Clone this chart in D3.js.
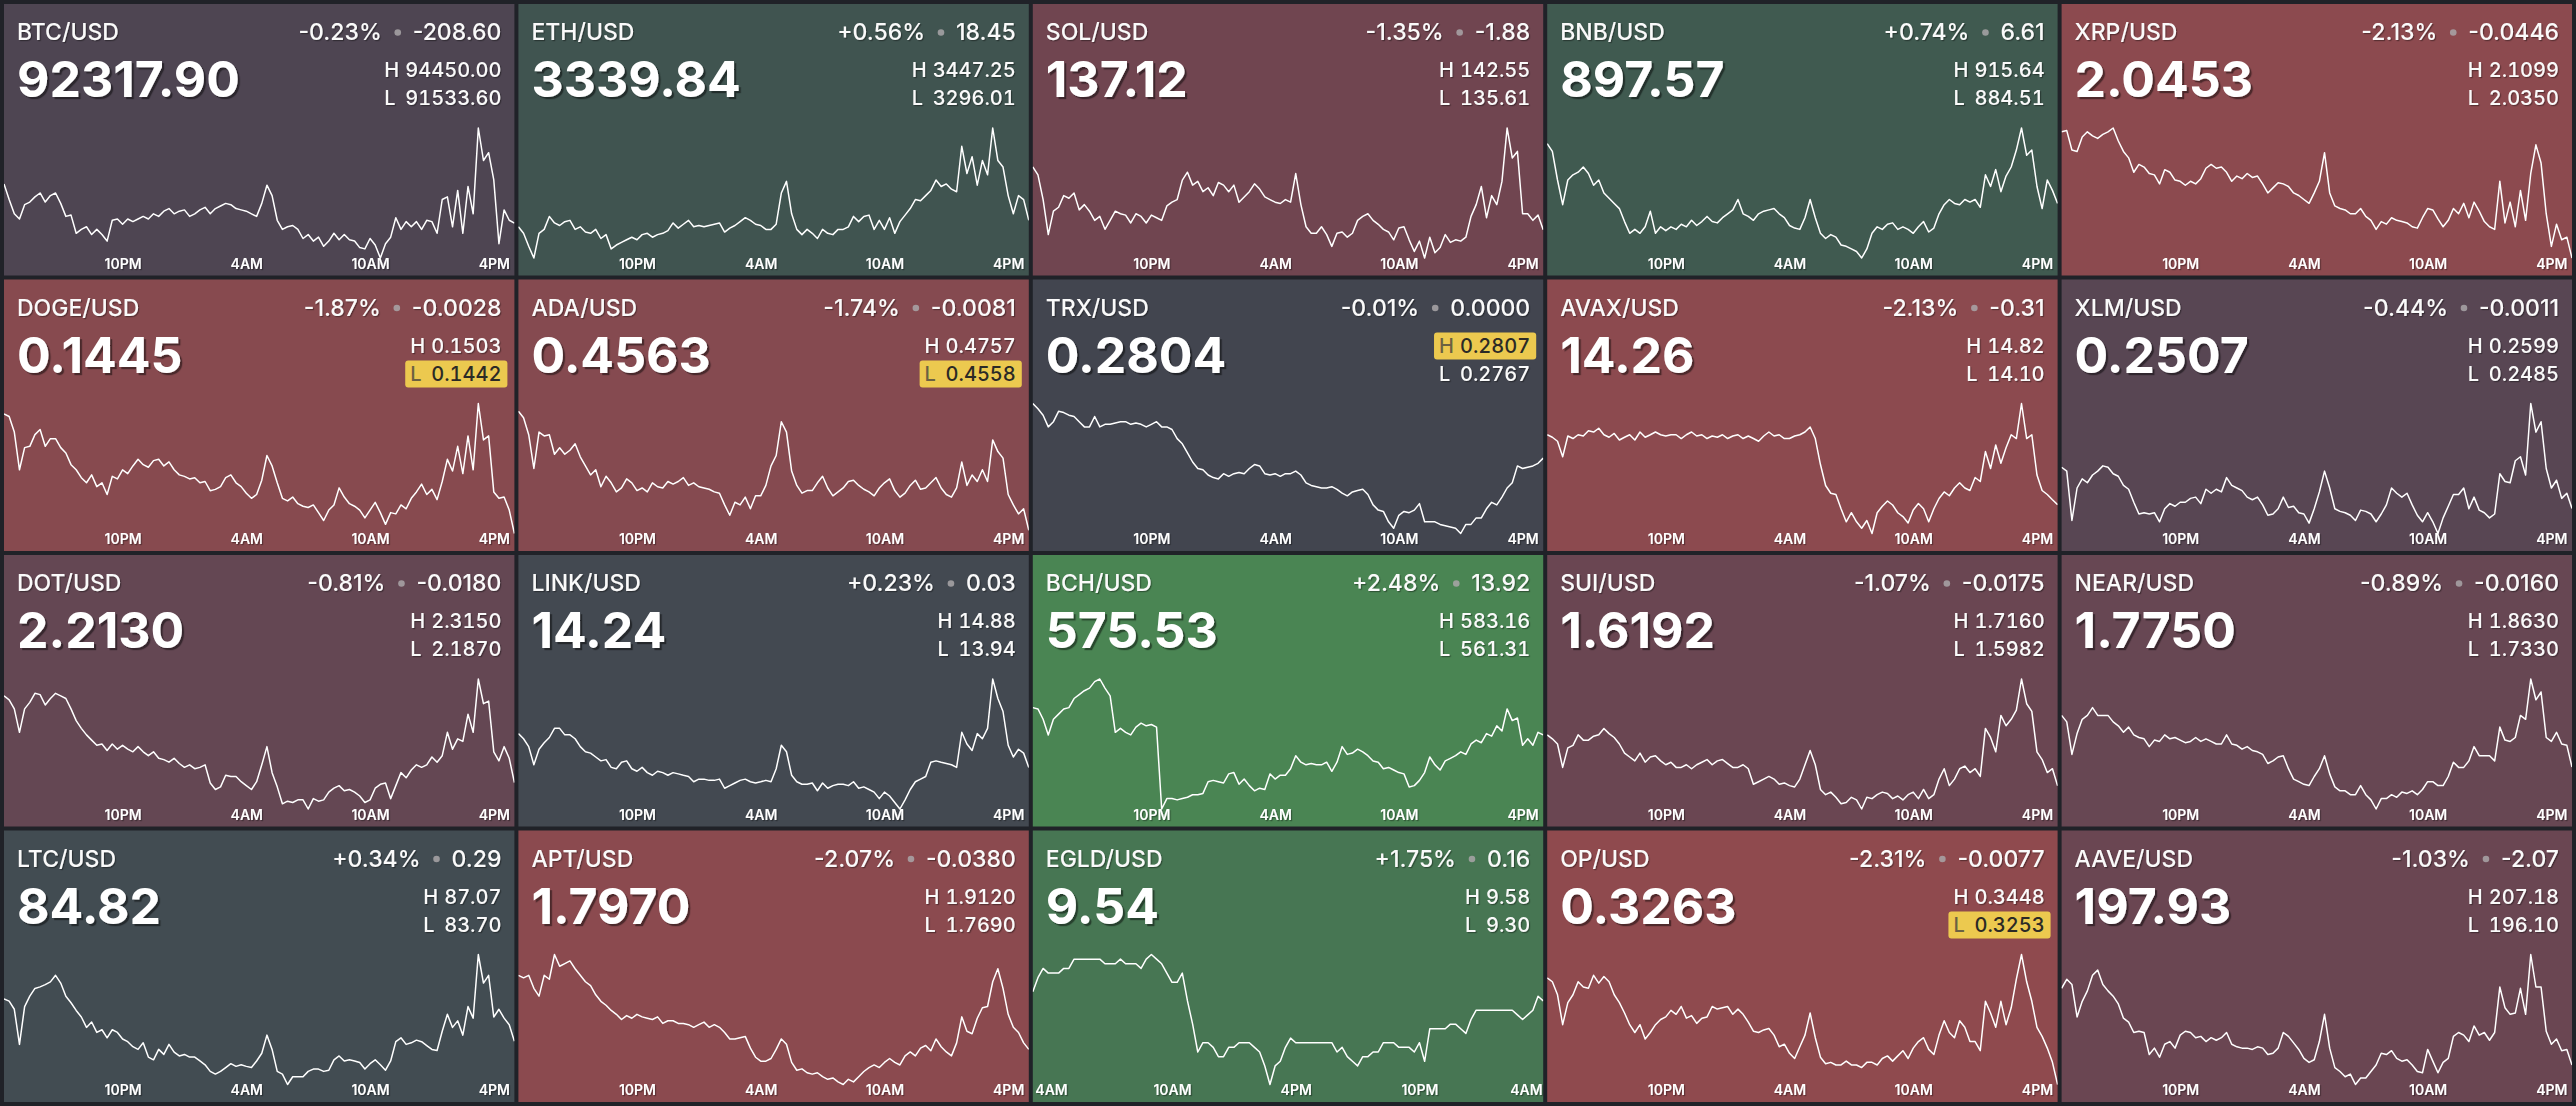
<!DOCTYPE html>
<html>
<head>
<meta charset="utf-8">
<script src="https://cdn.jsdelivr.net/npm/d3@7"></script>
<style>
  html, body { margin: 0; padding: 0; background: #202228; overflow: hidden; }
  svg { display: block; }
  .hl-value { font-variant-numeric: tabular-nums; }
</style>
</head>
<body>
<script>
// ---- Ticker data ----------------------------------------------------------
const symbols = ["BTC/USD", "ETH/USD", "SOL/USD", "BNB/USD", "XRP/USD",
                 "DOGE/USD", "ADA/USD", "TRX/USD", "AVAX/USD", "XLM/USD",
                 "DOT/USD", "LINK/USD", "BCH/USD", "SUI/USD", "NEAR/USD",
                 "LTC/USD", "APT/USD", "EGLD/USD", "OP/USD", "AAVE/USD"];
const lastPrices = [92317.90, 3339.84, 137.12, 897.57, 2.0453,
                    0.1445, 0.4563, 0.2804, 14.26, 0.2507,
                    2.2130, 14.24, 575.53, 1.6192, 1.7750,
                    84.82, 1.7970, 9.54, 0.3263, 197.93];
const changePct = [-0.23, 0.56, -1.35, 0.74, -2.13,
                   -1.87, -1.74, -0.01, -2.13, -0.44,
                   -0.81, 0.23, 2.48, -1.07, -0.89,
                   0.34, -2.07, 1.75, -2.31, -1.03];
const changeAbs = [-208.60, 18.45, -1.88, 6.61, -0.0446,
                   -0.0028, -0.0081, 0.0000, -0.31, -0.0011,
                   -0.0180, 0.03, 13.92, -0.0175, -0.0160,
                   0.29, -0.0380, 0.16, -0.0077, -2.07];
const dayHigh = [94450.00, 3447.25, 142.55, 915.64, 2.1099,
                 0.1503, 0.4757, 0.2807, 14.82, 0.2599,
                 2.3150, 14.88, 583.16, 1.7160, 1.8630,
                 87.07, 1.9120, 9.58, 0.3448, 207.18];
const dayLow = [91533.60, 3296.01, 135.61, 884.51, 2.0350,
                0.1442, 0.4558, 0.2767, 14.10, 0.2485,
                2.1870, 13.94, 561.31, 1.5982, 1.7330,
                83.70, 1.7690, 9.30, 0.3253, 196.10];
const decimals = [2, 2, 2, 2, 4, 4, 4, 4, 2, 4, 4, 2, 2, 4, 4, 2, 4, 2, 4, 2];

// first sample time of each 15-minute series (UTC)
const seriesStart = ["2025-01-14 16:15", "2025-01-14 16:15", "2025-01-14 16:15", "2025-01-14 16:15", "2025-01-14 16:15",
                     "2025-01-14 16:15", "2025-01-14 16:15", "2025-01-14 16:15", "2025-01-14 16:15", "2025-01-14 16:15",
                     "2025-01-14 16:15", "2025-01-14 16:15", "2025-01-14 16:15", "2025-01-14 16:15", "2025-01-14 16:15",
                     "2025-01-14 16:15", "2025-01-14 16:15", "2025-01-14 03:15", "2025-01-14 16:15", "2025-01-14 16:15"];
const stepMinutes = 15;
const tickHours = [4, 10, 16, 22];

// ---- 15-minute closes -----------------------------------------------------
const btcSeries = [93196, 92846, 92525, 92409, 92730, 92788, 92905, 92992, 92788, 92934,
  92992, 92759, 92467, 92496, 92088, 92176, 92234, 92059, 92176, 92059,
  91913, 92380, 92409, 92292, 92409, 92350, 92409, 92467, 92409, 92525,
  92467, 92584, 92642, 92525, 92584, 92613, 92467, 92525, 92613, 92671,
  92525, 92642, 92700, 92759, 92730, 92642, 92613, 92584, 92525, 92467,
  92759, 93167, 92934, 92380, 92176, 92234, 92263, 92176, 91971, 92059,
  91913, 92001, 91796, 91913, 92088, 91942, 92059, 91942, 91913, 91767,
  91738, 91971, 91826, 91533.6, 91855, 92001, 92438, 92176, 92350, 92234,
  92350, 92176, 92380, 92350, 92088, 92846, 92905, 92234, 93050, 92088,
  93138, 92525, 94450, 93721, 93896, 93284, 91855, 92613, 92380, 92317.9];
const ethSeries = [3332.3, 3324.7, 3309.6, 3296.01, 3324.7, 3329.3, 3344.4, 3336.8, 3333.8, 3338.3,
  3339.8, 3329.3, 3332.3, 3326.2, 3324.7, 3329.3, 3318.7, 3323.2, 3306.6, 3311.1,
  3314.1, 3317.2, 3320.2, 3317.2, 3323.2, 3324.7, 3320.2, 3323.2, 3324.7, 3327.8,
  3336.8, 3330.8, 3335.3, 3339.8, 3332.3, 3333.8, 3332.3, 3333.8, 3335.3, 3336.8,
  3326.2, 3330.8, 3333.8, 3338.3, 3342.9, 3339.8, 3335.3, 3333.8, 3329.3, 3329.3,
  3335.3, 3371.6, 3385.2, 3347.4, 3329.3, 3323.2, 3329.3, 3324.7, 3318.7, 3329.3,
  3324.7, 3323.2, 3329.3, 3329.3, 3332.3, 3344.4, 3338.3, 3344.4, 3345.9, 3329.3,
  3339.8, 3329.3, 3342.9, 3324.7, 3338.3, 3345.9, 3353.5, 3364.0, 3362.5, 3368.6,
  3374.6, 3386.7, 3379.2, 3382.2, 3376.1, 3373.1, 3426.0, 3394.3, 3413.9, 3380.7,
  3409.4, 3392.8, 3447.25, 3409.4, 3401.8, 3368.6, 3347.4, 3368.6, 3364.0, 3339.84];
const solSeries = [140.47, 140.05, 138.73, 136.86, 138.11, 138.32, 138.94, 138.80, 139.08, 138.18,
  138.46, 138.11, 137.62, 137.83, 137.14, 137.62, 138.11, 137.97, 137.90, 137.48,
  137.97, 137.83, 137.48, 137.90, 137.76, 137.62, 138.39, 138.59, 138.73, 139.77,
  140.19, 139.50, 139.70, 139.15, 139.36, 138.94, 139.64, 139.50, 139.15, 139.50,
  138.59, 138.87, 139.15, 139.57, 139.29, 138.87, 138.73, 138.59, 138.52, 138.73,
  138.59, 140.12, 138.46, 137.28, 136.93, 136.93, 137.28, 136.86, 136.23, 136.93,
  137.00, 136.72, 136.93, 137.62, 137.83, 137.97, 137.62, 137.41, 137.14, 137.00,
  136.58, 137.21, 137.28, 136.58, 135.96, 136.51, 135.61, 136.72, 135.89, 136.17,
  136.86, 136.44, 136.58, 136.51, 136.72, 137.83, 138.46, 139.43, 137.76, 138.94,
  138.46, 139.70, 142.55, 140.95, 141.30, 137.97, 137.97, 137.62, 137.90, 137.12];
const bnbSeries = [911.90, 910.04, 903.19, 897.27, 903.19, 904.43, 905.06, 906.30, 904.74, 901.94,
  903.19, 900.08, 898.83, 897.58, 896.34, 893.23, 890.42, 891.36, 890.42, 891.98,
  895.72, 890.42, 891.98, 891.05, 891.98, 891.36, 892.60, 891.98, 893.54, 892.29,
  893.23, 894.47, 893.23, 892.92, 894.16, 895.09, 896.03, 898.52, 895.09, 894.47,
  893.54, 895.09, 895.72, 896.03, 896.34, 895.09, 894.16, 892.29, 891.67, 891.36,
  894.16, 898.52, 894.16, 890.42, 889.18, 890.11, 889.49, 887.62, 887.31, 886.69,
  886.07, 884.51, 886.69, 890.42, 891.98, 891.36, 892.60, 892.92, 891.36, 891.98,
  891.36, 890.42, 891.98, 893.23, 890.74, 891.67, 895.09, 897.27, 898.52, 897.58,
  897.27, 898.52, 897.90, 898.52, 896.65, 904.43, 901.63, 905.68, 900.39, 904.12,
  906.30, 910.35, 915.64, 909.10, 910.35, 901.63, 896.34, 903.19, 900.70, 897.57];
const xrpSeries = [2.1077, 2.1084, 2.0972, 2.0964, 2.1047, 2.1077, 2.1054, 2.1039, 2.1062, 2.1077,
  2.1099, 2.1024, 2.0964, 2.0927, 2.0844, 2.0889, 2.0874, 2.0837, 2.0829, 2.0777,
  2.0859, 2.0844, 2.0799, 2.0792, 2.0769, 2.0792, 2.0777, 2.0807, 2.0867, 2.0889,
  2.0867, 2.0874, 2.0844, 2.0792, 2.0822, 2.0807, 2.0837, 2.0814, 2.0822, 2.0777,
  2.0725, 2.0754, 2.0784, 2.0777, 2.0762, 2.0725, 2.0710, 2.0687, 2.0665, 2.0725,
  2.0792, 2.0957, 2.0725, 2.0650, 2.0635, 2.0627, 2.0605, 2.0605, 2.0635, 2.0590,
  2.0567, 2.0515, 2.0560, 2.0545, 2.0582, 2.0567, 2.0560, 2.0552, 2.0530, 2.0522,
  2.0582, 2.0635, 2.0627, 2.0575, 2.0530, 2.0567, 2.0635, 2.0605, 2.0665, 2.0582,
  2.0672, 2.0620, 2.0560, 2.0530, 2.0515, 2.0792, 2.0552, 2.0672, 2.0530, 2.0739,
  2.0567, 2.0837, 2.1002, 2.0897, 2.0605, 2.0417, 2.0545, 2.0455, 2.0470, 2.0350];
const dogeSeries = [0.14981, 0.14969, 0.14896, 0.14719, 0.14823, 0.14829, 0.14884, 0.14908, 0.14829, 0.14865,
  0.14865, 0.14823, 0.14798, 0.14743, 0.14719, 0.14682, 0.14658, 0.14695, 0.14640, 0.14658,
  0.14603, 0.14688, 0.14676, 0.14719, 0.14701, 0.14737, 0.14768, 0.14743, 0.14731, 0.14762,
  0.14768, 0.14737, 0.14756, 0.14719, 0.14695, 0.14688, 0.14676, 0.14682, 0.14658, 0.14664,
  0.14621, 0.14627, 0.14640, 0.14682, 0.14695, 0.14658, 0.14640, 0.14609, 0.14585, 0.14603,
  0.14670, 0.14786, 0.14737, 0.14658, 0.14585, 0.14573, 0.14591, 0.14560, 0.14548, 0.14542,
  0.14554, 0.14518, 0.14481, 0.14530, 0.14554, 0.14634, 0.14591, 0.14560, 0.14548, 0.14530,
  0.14493, 0.14530, 0.14566, 0.14518, 0.14463, 0.14518, 0.14512, 0.14554, 0.14536, 0.14585,
  0.14615, 0.14652, 0.14603, 0.14627, 0.14579, 0.14664, 0.14768, 0.14713, 0.14829, 0.14701,
  0.14878, 0.14719, 0.15030, 0.14859, 0.14878, 0.14615, 0.14585, 0.14591, 0.14530, 0.14420];
const adaSeries = [0.47451, 0.47351, 0.47092, 0.46575, 0.47132, 0.47073, 0.47092, 0.46794, 0.46893, 0.46794,
  0.46854, 0.46953, 0.46754, 0.46615, 0.46476, 0.46555, 0.46296, 0.46456, 0.46356, 0.46217,
  0.46277, 0.46416, 0.46356, 0.46237, 0.46277, 0.46217, 0.46356, 0.46296, 0.46277, 0.46376,
  0.46336, 0.46376, 0.46436, 0.46316, 0.46356, 0.46296, 0.46277, 0.46257, 0.46217, 0.46197,
  0.46018, 0.45859, 0.46058, 0.46018, 0.46137, 0.45958, 0.46157, 0.46157, 0.46316, 0.46615,
  0.46774, 0.47291, 0.47132, 0.46535, 0.46316, 0.46197, 0.46237, 0.46237, 0.46356, 0.46456,
  0.46277, 0.46157, 0.46217, 0.46277, 0.46376, 0.46396, 0.46316, 0.46257, 0.46217, 0.46157,
  0.46277, 0.46356, 0.46416, 0.46237, 0.46137, 0.46197, 0.46316, 0.46396, 0.46257, 0.46277,
  0.46356, 0.46436, 0.46277, 0.46177, 0.46137, 0.46277, 0.46675, 0.46316, 0.46476, 0.46376,
  0.46555, 0.46376, 0.47013, 0.46834, 0.46734, 0.46177, 0.46018, 0.45879, 0.45958, 0.45630];
const trxSeries = [0.28070, 0.28054, 0.28034, 0.27998, 0.28014, 0.28046, 0.28042, 0.28034, 0.28030, 0.28014,
  0.27998, 0.27998, 0.28030, 0.27998, 0.28006, 0.28006, 0.28010, 0.28014, 0.28014, 0.28006,
  0.28010, 0.28006, 0.27998, 0.28006, 0.28014, 0.27998, 0.27998, 0.27990, 0.27962, 0.27946,
  0.27918, 0.27890, 0.27870, 0.27866, 0.27850, 0.27842, 0.27838, 0.27854, 0.27846, 0.27854,
  0.27858, 0.27854, 0.27870, 0.27882, 0.27878, 0.27854, 0.27850, 0.27854, 0.27846, 0.27854,
  0.27854, 0.27862, 0.27850, 0.27826, 0.27818, 0.27814, 0.27810, 0.27810, 0.27814, 0.27806,
  0.27794, 0.27786, 0.27798, 0.27802, 0.27806, 0.27790, 0.27758, 0.27742, 0.27738, 0.27706,
  0.27686, 0.27726, 0.27738, 0.27734, 0.27742, 0.27762, 0.27706, 0.27706, 0.27706, 0.27698,
  0.27694, 0.27690, 0.27686, 0.27670, 0.27698, 0.27698, 0.27718, 0.27718, 0.27746, 0.27766,
  0.27758, 0.27782, 0.27810, 0.27826, 0.27878, 0.27870, 0.27874, 0.27878, 0.27886, 0.27902];
const avaxSeries = [14.647, 14.633, 14.611, 14.525, 14.640, 14.626, 14.647, 14.640, 14.669, 14.662,
  14.683, 14.647, 14.633, 14.654, 14.618, 14.633, 14.647, 14.618, 14.662, 14.633,
  14.647, 14.662, 14.647, 14.640, 14.647, 14.647, 14.626, 14.647, 14.662, 14.640,
  14.647, 14.626, 14.640, 14.633, 14.647, 14.626, 14.640, 14.647, 14.626, 14.640,
  14.626, 14.611, 14.640, 14.662, 14.640, 14.647, 14.626, 14.626, 14.640, 14.647,
  14.662, 14.690, 14.626, 14.482, 14.366, 14.323, 14.316, 14.237, 14.165, 14.215,
  14.165, 14.129, 14.172, 14.100, 14.215, 14.251, 14.280, 14.258, 14.215, 14.194,
  14.158, 14.230, 14.266, 14.237, 14.165, 14.237, 14.294, 14.330, 14.309, 14.352,
  14.381, 14.352, 14.338, 14.410, 14.388, 14.554, 14.460, 14.590, 14.489, 14.575,
  14.647, 14.626, 14.820, 14.626, 14.647, 14.424, 14.338, 14.316, 14.287, 14.260];
const xlmSeries = [0.25431, 0.25397, 0.24964, 0.25249, 0.25329, 0.25295, 0.25363, 0.25397, 0.25443, 0.25431,
  0.25374, 0.25352, 0.25272, 0.25238, 0.25124, 0.25021, 0.25032, 0.25021, 0.25032, 0.24953,
  0.25067, 0.25112, 0.25089, 0.25124, 0.25124, 0.25158, 0.25169, 0.25112, 0.25238, 0.25203,
  0.25238, 0.25215, 0.25340, 0.25272, 0.25249, 0.25226, 0.25169, 0.25146, 0.25169, 0.25101,
  0.25010, 0.25021, 0.25067, 0.25169, 0.25078, 0.25089, 0.25032, 0.25021, 0.24941, 0.25067,
  0.25215, 0.25397, 0.25249, 0.25067, 0.25044, 0.25032, 0.25010, 0.24964, 0.25055, 0.25044,
  0.25021, 0.24953, 0.25021, 0.25101, 0.25249, 0.25203, 0.25169, 0.25203, 0.25101, 0.25010,
  0.24953, 0.25032, 0.24953, 0.24850, 0.24987, 0.25089, 0.25192, 0.25192, 0.25249, 0.25067,
  0.25169, 0.25055, 0.25032, 0.24987, 0.25021, 0.25374, 0.25306, 0.25295, 0.25488, 0.25523,
  0.25363, 0.25990, 0.25739, 0.25830, 0.25420, 0.25249, 0.25317, 0.25158, 0.25203, 0.25070];
const dotSeries = [2.2984, 2.2945, 2.2856, 2.2625, 2.2856, 2.2920, 2.3009, 2.2996, 2.2894, 2.2958,
  2.3009, 2.2984, 2.2958, 2.2856, 2.2740, 2.2664, 2.2600, 2.2548, 2.2497, 2.2510,
  2.2446, 2.2510, 2.2459, 2.2497, 2.2459, 2.2433, 2.2484, 2.2433, 2.2395, 2.2433,
  2.2369, 2.2356, 2.2331, 2.2369, 2.2318, 2.2280, 2.2305, 2.2267, 2.2280, 2.2305,
  2.2126, 2.2062, 2.2088, 2.2203, 2.2190, 2.2190, 2.2139, 2.2100, 2.2062, 2.2139,
  2.2305, 2.2484, 2.2228, 2.2088, 2.1921, 2.1947, 2.1934, 2.1960, 2.1960, 2.1870,
  2.1972, 2.1947, 2.1960, 2.2036, 2.2075, 2.2100, 2.2049, 2.2062, 2.2036, 2.1998,
  2.1934, 2.1960, 2.2075, 2.2113, 2.2126, 2.1972, 2.2100, 2.2228, 2.2177, 2.2254,
  2.2305, 2.2280, 2.2305, 2.2382, 2.2331, 2.2395, 2.2625, 2.2459, 2.2561, 2.2536,
  2.2804, 2.2625, 2.3150, 2.2907, 2.2932, 2.2433, 2.2344, 2.2484, 2.2369, 2.2130];
const linkSeries = [14.485, 14.448, 14.391, 14.260, 14.372, 14.419, 14.457, 14.523, 14.523, 14.476,
  14.476, 14.448, 14.391, 14.354, 14.344, 14.316, 14.288, 14.297, 14.241, 14.231,
  14.278, 14.288, 14.231, 14.213, 14.241, 14.203, 14.184, 14.213, 14.203, 14.184,
  14.203, 14.194, 14.184, 14.175, 14.137, 14.156, 14.156, 14.147, 14.147, 14.156,
  14.090, 14.109, 14.128, 14.147, 14.156, 14.137, 14.128, 14.137, 14.147, 14.137,
  14.231, 14.401, 14.354, 14.184, 14.137, 14.119, 14.119, 14.128, 14.072, 14.128,
  14.090, 14.109, 14.119, 14.119, 14.109, 14.137, 14.090, 14.100, 14.081, 14.062,
  14.015, 14.062, 14.034, 13.987, 13.940, 14.006, 14.081, 14.137, 14.156, 14.175,
  14.278, 14.288, 14.278, 14.269, 14.260, 14.241, 14.495, 14.410, 14.363, 14.485,
  14.448, 14.523, 14.880, 14.739, 14.645, 14.401, 14.316, 14.372, 14.344, 14.240];
const bchSeries = [578.35, 578.13, 576.39, 573.76, 576.39, 577.26, 578.13, 578.35, 579.88, 580.54,
  581.19, 581.63, 582.72, 583.16, 581.63, 580.32, 574.20, 574.86, 574.20, 573.76,
  575.08, 575.73, 575.29, 575.51, 575.08, 561.31, 563.06, 563.06, 562.84, 563.06,
  563.28, 563.71, 563.71, 563.93, 565.90, 566.12, 565.90, 565.68, 567.21, 567.43,
  565.46, 566.34, 565.24, 564.37, 564.81, 564.59, 567.21, 566.34, 566.99, 566.99,
  568.08, 570.27, 569.18, 568.74, 568.96, 568.74, 568.74, 569.18, 567.65, 569.18,
  571.80, 570.49, 570.71, 571.36, 570.92, 570.27, 569.39, 569.18, 568.08, 568.30,
  567.86, 567.43, 567.21, 565.02, 565.24, 566.12, 567.43, 570.05, 568.74, 567.86,
  569.39, 569.83, 570.27, 570.92, 570.49, 572.24, 572.89, 572.45, 573.98, 573.55,
  575.29, 574.42, 578.13, 576.17, 576.61, 572.02, 573.11, 572.02, 574.20, 573.76];
const suiSeries = [1.6654, 1.6618, 1.6571, 1.6359, 1.6536, 1.6559, 1.6654, 1.6606, 1.6606, 1.6642,
  1.6654, 1.6712, 1.6665, 1.6630, 1.6571, 1.6489, 1.6453, 1.6418, 1.6489, 1.6406,
  1.6453, 1.6465, 1.6418, 1.6383, 1.6406, 1.6359, 1.6359, 1.6383, 1.6347, 1.6383,
  1.6406, 1.6430, 1.6383, 1.6418, 1.6430, 1.6394, 1.6359, 1.6359, 1.6383, 1.6347,
  1.6206, 1.6229, 1.6253, 1.6277, 1.6253, 1.6206, 1.6218, 1.6194, 1.6182, 1.6253,
  1.6383, 1.6512, 1.6383, 1.6159, 1.6112, 1.6135, 1.6088, 1.6029, 1.6041, 1.6088,
  1.6064, 1.5982, 1.6088, 1.6076, 1.6112, 1.6135, 1.6123, 1.6076, 1.6100, 1.6064,
  1.6112, 1.6135, 1.6076, 1.6159, 1.6076, 1.6112, 1.6253, 1.6347, 1.6194, 1.6253,
  1.6347, 1.6371, 1.6312, 1.6347, 1.6277, 1.6712, 1.6630, 1.6500, 1.6830, 1.6736,
  1.6795, 1.6877, 1.7160, 1.6936, 1.6866, 1.6500, 1.6430, 1.6312, 1.6347, 1.6192];
const nearSeries = [1.8266, 1.8201, 1.7876, 1.8084, 1.8227, 1.8266, 1.8344, 1.8266, 1.8266, 1.8266,
  1.8201, 1.8162, 1.8097, 1.8149, 1.8071, 1.8045, 1.8032, 1.7954, 1.8019, 1.8006,
  1.8071, 1.8032, 1.8045, 1.8019, 1.7993, 1.8006, 1.8045, 1.8006, 1.8032, 1.8006,
  1.7980, 1.7980, 1.8071, 1.7980, 1.7967, 1.7928, 1.7954, 1.7915, 1.7902, 1.7876,
  1.7785, 1.7811, 1.7850, 1.7863, 1.7733, 1.7629, 1.7603, 1.7577, 1.7564, 1.7655,
  1.7733, 1.7863, 1.7681, 1.7551, 1.7512, 1.7512, 1.7473, 1.7473, 1.7564, 1.7473,
  1.7421, 1.7330, 1.7434, 1.7434, 1.7473, 1.7447, 1.7499, 1.7486, 1.7512, 1.7473,
  1.7525, 1.7603, 1.7603, 1.7564, 1.7564, 1.7655, 1.7798, 1.7746, 1.7746, 1.7811,
  1.7954, 1.7863, 1.7863, 1.7863, 1.7811, 1.8149, 1.8019, 1.8006, 1.8045, 1.8266,
  1.8227, 1.8630, 1.8422, 1.8500, 1.8045, 1.8006, 1.8097, 1.7980, 1.7967, 1.7750];
const ltcSeries = [85.92, 85.86, 85.65, 84.74, 85.72, 85.99, 86.19, 86.23, 86.29, 86.36,
  86.53, 86.33, 85.99, 85.82, 85.62, 85.45, 85.18, 85.32, 85.05, 85.12,
  84.91, 85.12, 85.05, 84.88, 84.81, 84.68, 84.61, 84.78, 84.41, 84.34,
  84.61, 84.48, 84.74, 84.54, 84.44, 84.48, 84.41, 84.41, 84.31, 84.21,
  84.04, 83.97, 84.04, 84.14, 84.24, 84.17, 84.21, 84.17, 84.14, 84.31,
  84.51, 84.98, 84.61, 84.04, 83.97, 83.70, 83.90, 83.90, 83.90, 84.04,
  84.10, 84.10, 84.04, 84.07, 84.34, 84.44, 84.31, 84.34, 84.31, 84.27,
  84.10, 84.24, 84.34, 84.21, 84.07, 84.31, 84.81, 84.91, 84.74, 84.78,
  84.85, 84.81, 84.71, 84.61, 84.58, 85.08, 85.52, 85.18, 85.35, 84.98,
  85.72, 85.42, 87.07, 86.33, 86.53, 85.45, 85.65, 85.42, 85.25, 84.82];
const aptSeries = [1.8891, 1.8863, 1.8891, 1.8748, 1.8662, 1.8891, 1.8848, 1.9120, 1.8991, 1.9020,
  1.9049, 1.8963, 1.8891, 1.8820, 1.8777, 1.8677, 1.8605, 1.8562, 1.8505, 1.8462,
  1.8405, 1.8448, 1.8419, 1.8462, 1.8434, 1.8419, 1.8405, 1.8434, 1.8362, 1.8391,
  1.8391, 1.8362, 1.8362, 1.8348, 1.8319, 1.8348, 1.8376, 1.8319, 1.8348, 1.8319,
  1.8262, 1.8191, 1.8191, 1.8205, 1.8219, 1.8090, 1.7990, 1.7947, 1.7947, 1.7976,
  1.8076, 1.8191, 1.8133, 1.7933, 1.7847, 1.7862, 1.7819, 1.7804, 1.7819, 1.7776,
  1.7747, 1.7762, 1.7719, 1.7690, 1.7747, 1.7719, 1.7776, 1.7833, 1.7876, 1.7905,
  1.7876, 1.7933, 1.7976, 1.7933, 1.7905, 1.8005, 1.8048, 1.8005, 1.8090, 1.8119,
  1.8062, 1.8191, 1.8105, 1.8048, 1.8005, 1.8148, 1.8434, 1.8276, 1.8248, 1.8419,
  1.8534, 1.8548, 1.8820, 1.8963, 1.8748, 1.8462, 1.8319, 1.8262, 1.8148, 1.8076];
const egldSeries = [9.50, 9.53, 9.55, 9.54, 9.54, 9.54, 9.55, 9.55, 9.57, 9.57,
  9.57, 9.57, 9.57, 9.57, 9.56, 9.56, 9.56, 9.57, 9.56, 9.56,
  9.56, 9.55, 9.57, 9.58, 9.57, 9.56, 9.54, 9.52, 9.52, 9.54,
  9.48, 9.43, 9.37, 9.39, 9.39, 9.38, 9.36, 9.36, 9.38, 9.38,
  9.39, 9.39, 9.39, 9.38, 9.37, 9.34, 9.30, 9.34, 9.35, 9.38,
  9.40, 9.39, 9.39, 9.39, 9.39, 9.39, 9.39, 9.39, 9.39, 9.37,
  9.38, 9.36, 9.35, 9.34, 9.36, 9.36, 9.37, 9.37, 9.39, 9.39,
  9.39, 9.38, 9.38, 9.38, 9.37, 9.39, 9.35, 9.42, 9.42, 9.42,
  9.42, 9.43, 9.43, 9.42, 9.41, 9.44, 9.46, 9.46, 9.46, 9.46,
  9.46, 9.46, 9.46, 9.46, 9.45, 9.44, 9.45, 9.46, 9.49, 9.48];
const opSeries = [0.34129, 0.34071, 0.33876, 0.33427, 0.33759, 0.33876, 0.34071, 0.33993, 0.33973, 0.34168,
  0.34051, 0.34149, 0.34071, 0.33876, 0.33759, 0.33603, 0.33427, 0.33310, 0.33427, 0.33213,
  0.33310, 0.33427, 0.33505, 0.33544, 0.33642, 0.33583, 0.33700, 0.33525, 0.33564, 0.33447,
  0.33525, 0.33544, 0.33700, 0.33661, 0.33681, 0.33700, 0.33583, 0.33661, 0.33583, 0.33466,
  0.33330, 0.33310, 0.33349, 0.33369, 0.33271, 0.33096, 0.33135, 0.32998, 0.32920, 0.33096,
  0.33271, 0.33603, 0.33232, 0.32940, 0.32842, 0.32862, 0.32823, 0.32823, 0.32881, 0.32823,
  0.32823, 0.32784, 0.32862, 0.32862, 0.32823, 0.32920, 0.32959, 0.32881, 0.32959, 0.33037,
  0.32920, 0.33076, 0.33174, 0.33232, 0.33057, 0.32979, 0.33271, 0.33486, 0.33310, 0.33232,
  0.33486, 0.33388, 0.33174, 0.33174, 0.33037, 0.33778, 0.33603, 0.33388, 0.33778, 0.33427,
  0.33681, 0.34110, 0.34480, 0.34071, 0.33778, 0.33388, 0.33252, 0.33076, 0.32862, 0.32530];
const aaveSeries = [204.30, 205.07, 204.63, 201.86, 203.19, 204.08, 205.41, 205.85, 204.63, 204.08,
  203.63, 202.97, 201.75, 201.42, 200.53, 200.64, 200.53, 198.65, 199.20, 198.43,
  199.53, 199.76, 199.20, 200.31, 200.64, 200.53, 200.09, 200.20, 199.76, 200.09,
  199.87, 200.09, 200.53, 199.53, 199.31, 199.20, 199.20, 199.09, 199.31, 199.20,
  198.65, 198.76, 199.20, 200.53, 200.20, 199.65, 199.09, 198.32, 197.98, 198.21,
  199.76, 202.08, 199.20, 197.54, 197.21, 196.76, 196.99, 196.10, 196.65, 196.65,
  197.21, 197.76, 198.76, 198.65, 198.98, 198.32, 198.09, 198.21, 197.76, 197.21,
  197.10, 199.09, 198.09, 197.10, 197.98, 198.32, 200.20, 200.53, 200.31, 199.76,
  201.09, 200.31, 200.53, 199.87, 200.53, 204.41, 202.64, 202.08, 202.19, 204.30,
  202.08, 207.18, 204.41, 204.41, 200.64, 199.53, 199.98, 198.98, 199.09, 197.76];

const series = [btcSeries, ethSeries, solSeries, bnbSeries, xrpSeries,
                dogeSeries, adaSeries, trxSeries, avaxSeries, xlmSeries,
                dotSeries, linkSeries, bchSeries, suiSeries, nearSeries,
                ltcSeries, aptSeries, egldSeries, opSeries, aaveSeries];

// ---- Layout ---------------------------------------------------------------
const W = 2576, H = 1106, PAD = 4, GAP = 4, COLS = 5, ROWS = 4;
const cellW = (W - 2 * PAD - (COLS - 1) * GAP) / COLS;
const cellH = (H - 2 * PAD - (ROWS - 1) * GAP) / ROWS;
const FONT = "Inter, 'Noto Sans', 'DejaVu Sans', sans-serif";
const LEFT = 13, RIGHT = cellW - 13;
const LINE_TOP = 124, LINE_BOTTOM = 254;
const NEAR_EXTREME = 0.0035;   // highlight H/L when price is within 0.35%

// panel tint follows the day's % change: red for losers, slate near flat, green for gainers
const tint = d3.scaleLinear()
  .domain([-2.3, -1.7, -1.35, -0.9, -0.45, -0.2, 0, 0.3, 0.6, 1.75, 2.5])
  .range(["#8f4a4e", "#844a50", "#704550", "#674753", "#584653", "#4d4552",
          "#41454f", "#434a52", "#3f5650", "#477653", "#4a8553"])
  .clamp(true);

const parseTime = d3.utcParse("%Y-%m-%d %H:%M");
const fmtTick = d3.utcFormat("%-I%p");

const svg = d3.select("body").append("svg")
  .attr("width", W).attr("height", H)
  .attr("font-family", FONT);

svg.append("rect").attr("width", W).attr("height", H).attr("fill", "#202228");

const defs = svg.append("defs");
function dropShadow(id, d, opacity) {
  const f = defs.append("filter").attr("id", id)
    .attr("x", "-10%").attr("y", "-40%").attr("width", "130%").attr("height", "190%");
  f.append("feDropShadow").attr("dx", d).attr("dy", d).attr("stdDeviation", 0.5)
    .attr("flood-color", "#000").attr("flood-opacity", opacity);
}
dropShadow("shadowSmall", 1.2, 0.35);
dropShadow("shadowBig", 2.2, 0.45);

const fmtPct = p => (p > 0 ? "+" : "") + p.toFixed(2) + "%";

symbols.forEach((sym, k) => {
  const col = k % COLS, row = Math.floor(k / COLS);
  const dec = decimals[k];
  const g = svg.append("g")
    .attr("transform", `translate(${PAD + col * (cellW + GAP)},${PAD + row * (cellH + GAP)})`);

  g.append("rect").attr("width", cellW).attr("height", cellH).attr("fill", tint(changePct[k]));

  // ---- sparkline ----
  const values = series[k];
  const t0 = parseTime(seriesStart[k]);
  const times = values.map((_, i) => d3.utcMinute.offset(t0, i * stepMinutes));
  const x = d3.scaleUtc().domain([times[0], times[times.length - 1]]).range([0, cellW]);
  const y = d3.scaleLinear().domain([dayLow[k], dayHigh[k]]).range([LINE_BOTTOM, LINE_TOP]);

  g.append("clipPath").attr("id", "clip" + k)
    .append("rect").attr("width", cellW).attr("height", cellH);

  const line = d3.line().x((d, i) => x(times[i])).y(d => y(d));
  g.append("path")
    .datum(values)
    .attr("clip-path", `url(#clip${k})`)
    .attr("d", line)
    .attr("fill", "none")
    .attr("stroke", "#ffffff")
    .attr("stroke-width", 1.5)
    .attr("stroke-linejoin", "round");

  // ---- time axis ----
  const ticks = d3.utcHour.range(times[0], d3.utcMinute.offset(times[times.length - 1], 1))
    .filter(d => tickHours.includes(d.getUTCHours()));
  const axis = d3.axisBottom(x).tickValues(ticks).tickFormat(fmtTick).tickSize(0).tickPadding(3);
  const ag = g.append("g").attr("transform", `translate(0,${LINE_BOTTOM - 2})`).call(axis);
  ag.attr("font-family", FONT).attr("font-size", 14);
  ag.select(".domain").remove();
  ag.selectAll(".tick text")
    .attr("fill", "#ffffff")
    .attr("font-weight", 600)
    .attr("filter", "url(#shadowSmall)");
  // keep edge labels inside the panel
  ag.selectAll(".tick").each(function (d) {
    const t = d3.select(this).select("text");
    const b = t.node().getBBox();
    const left = x(d) + b.x, right = left + b.width;
    let shift = 0;
    if (right > cellW - 1) shift = cellW - 1 - right;
    if (left < 2) shift = 2 - left;
    if (shift) t.attr("x", shift);
  });

  // ---- header: symbol + change ----
  g.append("text").attr("x", LEFT).attr("y", 36)
    .attr("font-size", 23).attr("font-weight", 500).attr("fill", "#fafafa")
    .attr("filter", "url(#shadowSmall)")
    .text(sym);

  const absText = g.append("text").attr("x", RIGHT).attr("y", 36)
    .attr("text-anchor", "end")
    .attr("font-size", 23).attr("font-weight", 500).attr("fill", "#fafafa")
    .attr("filter", "url(#shadowSmall)")
    .text(changeAbs[k].toFixed(dec));
  const absW = absText.node().getComputedTextLength();
  const dotX = RIGHT - absW - 15;
  g.append("circle").attr("cx", dotX).attr("cy", 28.5).attr("r", 3.3)
    .attr("fill", "#a9a6a8").attr("opacity", 0.85);
  g.append("text").attr("x", dotX - 16).attr("y", 36)
    .attr("text-anchor", "end")
    .attr("font-size", 23).attr("font-weight", 500).attr("fill", "#fafafa")
    .attr("filter", "url(#shadowSmall)")
    .text(fmtPct(changePct[k]));

  // ---- big price ----
  g.append("text").attr("x", LEFT).attr("y", 93)
    .attr("font-size", 50).attr("font-weight", 700).attr("fill", "#ffffff")
    .attr("filter", "url(#shadowBig)")
    .text(lastPrices[k].toFixed(dec));

  // ---- high / low ----
  const rows = [
    { letter: "H", value: dayHigh[k], base: 73 },
    { letter: "L", value: dayLow[k], base: 101 }
  ];
  rows.forEach(r => {
    r.near = Math.abs(lastPrices[k] - r.value) / lastPrices[k] < NEAR_EXTREME;
    r.valueNode = g.append("text").attr("class", "hl-value")
      .attr("x", RIGHT).attr("y", r.base)
      .attr("text-anchor", "end")
      .attr("font-size", 20).attr("font-weight", 500)
      .attr("fill", r.near ? "#2b2a26" : "#fafafa")
      .attr("filter", r.near ? null : "url(#shadowSmall)")
      .text(r.value.toFixed(dec));
  });
  const maxW = d3.max(rows, r => r.valueNode.node().getComputedTextLength());
  const letterX = RIGHT - maxW - 21;
  rows.forEach(r => {
    g.append("text").attr("x", letterX).attr("y", r.base)
      .attr("font-size", 20).attr("font-weight", 500)
      .attr("fill", r.near ? "#6b6142" : "#fafafa")
      .attr("filter", r.near ? null : "url(#shadowSmall)")
      .text(r.letter);
    if (r.near) {
      // badge sits behind both the letter and the value
      g.insert("rect", () => r.valueNode.node())
        .attr("x", letterX - 5).attr("y", r.base - 20)
        .attr("width", RIGHT + 6 - (letterX - 5)).attr("height", 27)
        .attr("rx", 3).attr("fill", "#ecc94f");
    }
  });
});
</script>
</body>
</html>
